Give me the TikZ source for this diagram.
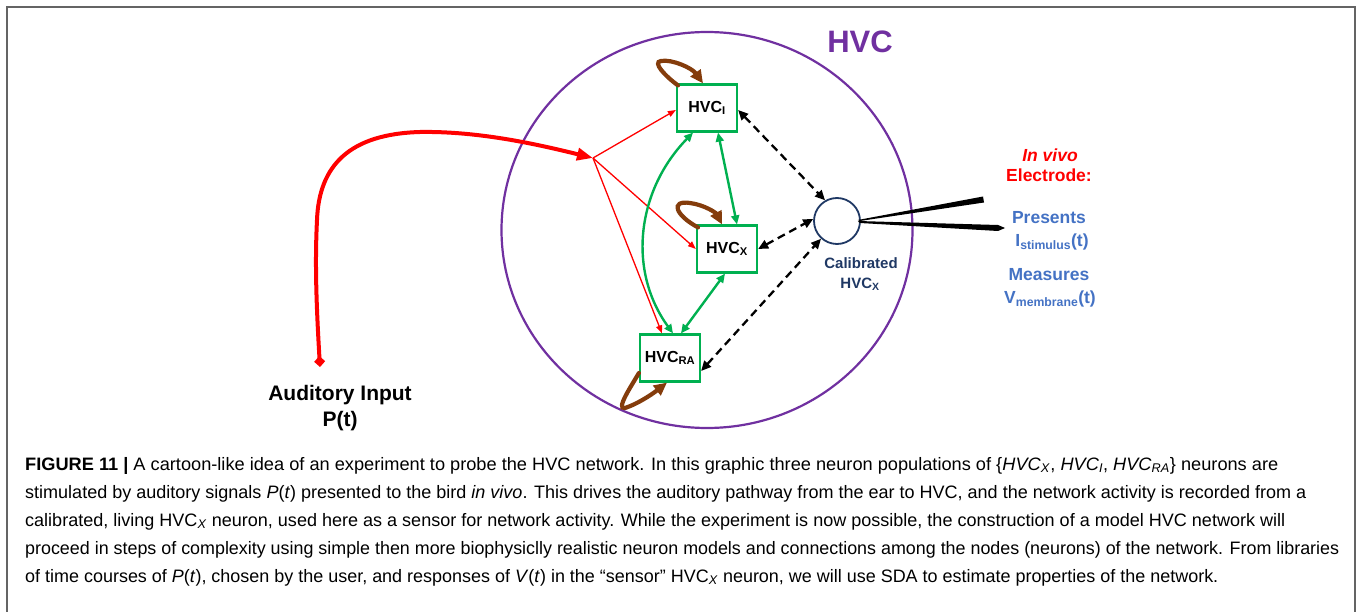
\documentclass[tikz,border=0pt]{standalone}
\usepackage{fontspec}
\setmainfont{Liberation Sans}
\usetikzlibrary{arrows.meta,calc}

\definecolor{hvcpurple}{RGB}{112,48,160}
\definecolor{popgreen}{RGB}{0,176,80}
\definecolor{loopbrown}{RGB}{132,60,12}
\definecolor{cellnavy}{RGB}{31,56,100}
\definecolor{probeblue}{RGB}{68,114,196}
\definecolor{framegray}{RGB}{100,100,100}
\definecolor{inred}{RGB}{255,0,0}

% one caption line, squeezed horizontally to a given width
\newcommand\capline[2]{\resizebox{#1}{\height}{\fontsize{18}{20}\selectfont #2}}

\begin{document}
\begin{tikzpicture}[x=1pt,y=1pt,
  pop/.style={draw=popgreen, line width=2.2pt, fill=white, minimum width=60pt,
    minimum height=47pt, inner sep=0pt, font=\bfseries\fontsize{16}{18}\selectfont},
  feed/.style={draw=inred, line width=1.3pt, -{Triangle[length=8pt,width=6pt]}},
  link/.style={draw=popgreen, line width=2.4pt,
    {Triangle[length=9pt,width=8pt]}-{Triangle[length=9pt,width=8pt]}},
  probe/.style={draw=black, line width=2.3pt, dash pattern=on 8pt off 5pt,
    {Triangle[length=10pt,width=9pt]}-{Triangle[length=10pt,width=9pt]}},
  selfloop/.style={draw=loopbrown, line width=4.2pt, line cap=round,
    -{Triangle[length=13pt,width=12pt]}},
  probetext/.style={anchor=base, inner sep=0pt, text=probeblue,
    font=\bfseries\fontsize{17.5}{20}\selectfont},
  captext/.style={anchor=base west, inner sep=0pt},
]
\useasboundingbox (0,0) rectangle (1357,-612);

% frame
\draw[framegray, line width=1.5pt] (7,-612) -- (7,-7) -- (1355,-7) -- (1355,-612);

% HVC nucleus
\draw[hvcpurple, line width=2.2pt] (707,-230) ellipse [x radius=205.5, y radius=198];
\node[anchor=base, inner sep=0pt, text=hvcpurple, font=\bfseries\fontsize{31}{36}\selectfont]
  (hvc) at (860,-53) {HVC};

% neuron populations
\node[pop] (hi)  at (707,-108) {HVC\textsubscript{I}};
\node[pop] (hx)  at (727,-249) {HVC\textsubscript{X}};
\node[pop] (hra) at (670,-358) {HVC\textsubscript{RA}};

% recorded cell
\node[circle, draw=cellnavy, line width=1.8pt, minimum size=46pt, inner sep=0pt] (cal) at (837,-221) {};
\node[anchor=base, inner sep=0pt, text=cellnavy, font=\bfseries\fontsize{15}{18}\selectfont]
  (callab) at (861,-269) {Calibrated};
\node[anchor=base, inner sep=0pt, text=cellnavy, font=\bfseries\fontsize{15}{18}\selectfont]
  (callab2) at (860,-288) {HVC\textsubscript{X}};

% electrode
\fill[black] ([xshift=-3pt,yshift=1pt]cal.east) -- (983,-196.5) -- (984,-202.5) -- ([xshift=-1pt]cal.east) -- cycle;
\fill[black] ([xshift=-3pt]cal.east) -- (998,-225) -- (1005,-228) -- (998,-231) -- ([xshift=-1pt,yshift=-2pt]cal.east) -- cycle;
\node[anchor=base, inner sep=0pt, text=inred, font=\bfseries\itshape\fontsize{17.5}{20}\selectfont]
  (invivo) at (1050,-162) {In vivo};
\node[anchor=base, inner sep=0pt, text=inred, font=\bfseries\fontsize{17.5}{20}\selectfont]
  (electrode) at (1049,-182) {Electrode:};
\node[probetext] (pres) at (1049,-224) {Presents};
\node[probetext] (istim) at (1052,-247) {I\textsubscript{stimulus}(t)};
\node[probetext] (meas) at (1049,-281) {Measures};
\node[probetext] (vmem) at (1050,-304) {V\textsubscript{membrane}(t)};

% auditory input
\node[anchor=base, inner sep=0pt, font=\bfseries\fontsize{21}{25}\selectfont] (aud) at (340,-400) {Auditory Input};
\node[anchor=base, inner sep=0pt, font=\bfseries\fontsize{21}{25}\selectfont] (aud2) at (340,-426) {P(t)};
\coordinate (src) at (320,-367);
\coordinate (br) at (593,-158);
\draw[inred, line width=4pt, {Diamond[length=11pt,width=11pt]}-{Triangle[length=16pt,width=12pt]}]
  (src) .. controls (316,-300) and (315,-260) .. (317,-220)
        .. controls (319,-165) and (350,-134) .. (420,-132)
        .. controls (480,-131) and (540,-145) .. (br);

% auditory drive into the populations
\draw[feed] (br) -- ([yshift=-2pt]hi.west);
\draw[feed] (br) -- (hx.west);
\draw[feed] (br) -- ([xshift=-8pt]hra.north);

% connections among populations
\draw[link] ([xshift=-14pt]hi.south) .. controls (637,-190) and (627,-270) .. ([xshift=3pt]hra.north);
\draw[link] ([xshift=11pt]hi.south) -- ([xshift=10pt]hx.north);
\draw[link] ([xshift=-2pt]hx.south) -- ([xshift=11pt]hra.north);

% self connections
\draw[selfloop] ([xshift=-29pt,yshift=-2pt]hi.north) .. controls (665,-76) and (652,-62) .. (661,-61)
  .. controls (672,-59) and (692,-68) .. ([xshift=-4pt]hi.north);
\draw[selfloop] ([xshift=-29pt,yshift=-3pt]hx.north) .. controls (675,-215) and (670,-200) .. (690,-203)
  .. controls (705,-205) and (716,-213) .. ([xshift=-5pt]hx.north);
\draw[selfloop] ([yshift=-15pt]hra.west) .. controls (632,-385) and (615,-410) .. (625,-408)
  .. controls (640,-403) and (655,-392) .. ([xshift=-3pt]hra.south);

% recordings from the calibrated cell
\draw[probe] ([yshift=-2pt]hi.east) -- (cal.120);
\draw[probe] (hx.east) -- (cal.175);
\draw[probe] ([yshift=-13pt]hra.east) -- (cal.228);

% caption
\node[captext] (cap1) at (25,-470) {\capline{1253pt}{\textbf{FIGURE 11 |} A cartoon-like idea of an experiment to probe the HVC network. In this graphic three neuron populations of \{\textit{HVC}\textsubscript{\textit{X}}, \textit{HVC}\textsubscript{\textit{I}}, \textit{HVC}\textsubscript{\textit{RA}}\} neurons are}};
\node[captext] (cap2) at (25,-498) {\capline{1281pt}{stimulated by auditory signals \textit{P}(\textit{t}) presented to the bird \textit{in vivo}. This drives the auditory pathway from the ear to HVC, and the network activity is recorded from a}};
\node[captext] (cap3) at (25,-526) {\capline{1260pt}{calibrated, living HVC\textsubscript{\textit{X}} neuron, used here as a sensor for network activity. While the experiment is now possible, the construction of a model HVC network will}};
\node[captext] (cap4) at (25,-554) {\capline{1314pt}{proceed in steps of complexity using simple then more biophysiclly realistic neuron models and connections among the nodes (neurons) of the network. From libraries}};
\node[captext] (cap5) at (25,-582) {\capline{1193pt}{of time courses of \textit{P}(\textit{t}), chosen by the user, and responses of \textit{V}(\textit{t}) in the “sensor” HVC\textsubscript{\textit{X}} neuron, we will use SDA to estimate properties of the network.}};
\end{tikzpicture}
\end{document}
